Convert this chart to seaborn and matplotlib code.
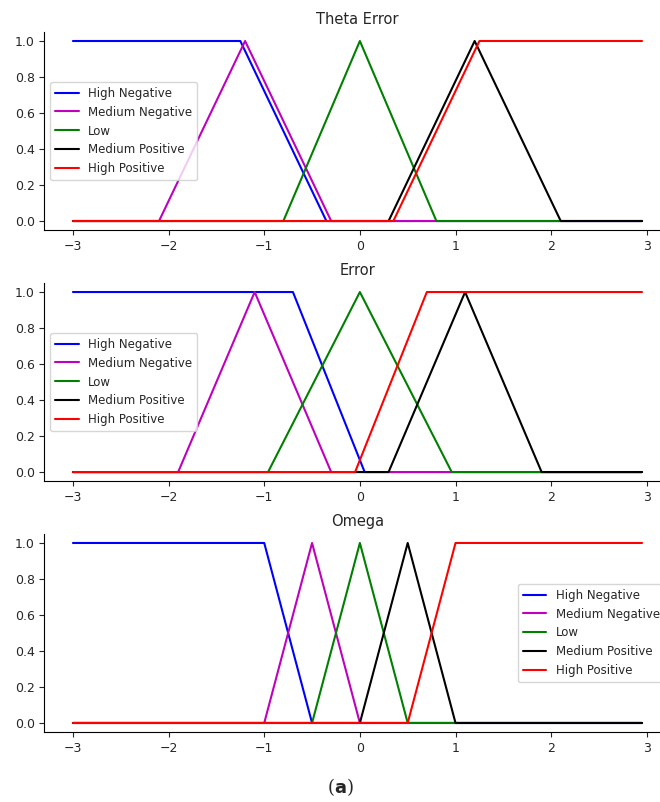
import numpy as np
import pandas as pd
import matplotlib
matplotlib.use("Agg")
import matplotlib.pyplot as plt
import seaborn as sns

sns.set_style("white")
plt.rcParams['font.family'] = ['DejaVu Sans']

labels = ["High Negative", "Medium Negative", "Low", "Medium Positive", "High Positive"]
colors = ["b", "m", "g", "k", "r"]
titles = ["Theta Error", "Error", "Omega"]

# membership function vertices (x, y) for each panel
theta_x = [[-3, -1.25, -0.35, 2.95],
           [-3, -2.1, -1.2, -0.3, 2.95],
           [-3, -0.8, 0.0, 0.8, 2.95],
           [-3, 0.3, 1.2, 2.1, 2.95],
           [-3, 0.35, 1.25, 2.95]]
theta_y = [[1, 1, 0, 0], [0, 0, 1, 0, 0], [0, 0, 1, 0, 0], [0, 0, 1, 0, 0], [0, 0, 1, 1]]

error_x = [[-3, -0.7, 0.05, 2.95],
           [-3, -1.9, -1.1, -0.3, 2.95],
           [-3, -0.96, 0.0, 0.96, 2.95],
           [-3, 0.3, 1.1, 1.9, 2.95],
           [-3, -0.05, 0.7, 2.95]]
error_y = [[1, 1, 0, 0], [0, 0, 1, 0, 0], [0, 0, 1, 0, 0], [0, 0, 1, 0, 0], [0, 0, 1, 1]]

omega_x = [[-3, -1.0, -0.5, 2.95],
           [-3, -1.0, -0.5, 0.0, 2.95],
           [-3, -0.5, 0.0, 0.5, 2.95],
           [-3, 0.0, 0.5, 1.0, 2.95],
           [-3, 0.5, 1.0, 2.95]]
omega_y = [[1, 1, 0, 0], [0, 0, 1, 0, 0], [0, 0, 1, 0, 0], [0, 0, 1, 0, 0], [0, 0, 1, 1]]

panels = [(theta_x, theta_y), (error_x, error_y), (omega_x, omega_y)]
legend_locs = ["center left", "center left", "center right"]

fig = plt.figure(figsize=(6.6, 8.02), dpi=100)
left, width, height = 0.0674, 0.9485, 0.2469
bottoms = [0.7132, 0.4002, 0.0873]

for i, ((xs, ys), title) in enumerate(zip(panels, titles)):
    ax = fig.add_axes([left, bottoms[i], width, height])
    for lab, col, xv, yv in zip(labels, colors, xs, ys):
        df = pd.DataFrame({"x": xv, "y": yv})
        sns.lineplot(data=df, x="x", y="y", color=col, label=lab, ax=ax,
                     estimator=None, sort=False, linewidth=1.5)
    ax.set_title(title, fontsize=10.5)
    ax.set_xlabel("")
    ax.set_ylabel("")
    ax.set_xticks([-3, -2, -1, 0, 1, 2, 3])
    ax.set_yticks([0.0, 0.2, 0.4, 0.6, 0.8, 1.0])
    ax.tick_params(axis="both", labelsize=9, length=3.5, width=0.8, left=True, bottom=True)
    for s in ["left", "bottom"]:
        ax.spines[s].set_color("black")
        ax.spines[s].set_linewidth(0.8)
    sns.despine(ax=ax)
    ax.legend(loc=legend_locs[i], fontsize=8.5, frameon=True)

fig.text(0.515, 0.018, r"($\mathbf{a}$)", ha="center", va="center",
         fontsize=13, family="DejaVu Serif")

fig.savefig("out.png", dpi=100)
